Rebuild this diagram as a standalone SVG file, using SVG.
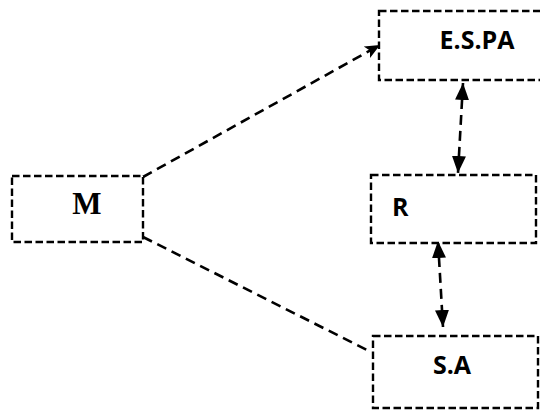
<svg xmlns="http://www.w3.org/2000/svg" width="540" height="410" viewBox="0 0 540 410">
<style>
.box{fill:#fff;stroke:#000;stroke-width:2.4;stroke-dasharray:7.5,3.5}
.con{fill:none;stroke:#000;stroke-width:2.6;stroke-dasharray:10,6}
.lbl{font-family:"Open Sans","Liberation Sans",sans-serif;font-weight:bold;font-size:25px;fill:#000}
.lblm{font-family:"Liberation Serif","Times New Roman",serif;font-weight:bold;font-size:31px;fill:#000}
</style>
<defs>
<marker id="ah" markerUnits="userSpaceOnUse" markerWidth="18" markerHeight="18" viewBox="0 0 18 18" refX="17" refY="9" orient="auto-start-reverse">
<path d="M0,2 L17,9 L0,16 Z" fill="#000"/>
</marker>
<marker id="ahs" markerUnits="userSpaceOnUse" markerWidth="16" markerHeight="16" viewBox="0 0 16 16" refX="15" refY="8" orient="auto">
<path d="M0,1.5 L15,8 L0,14.5 L3.5,8 Z" fill="#000"/>
</marker>
</defs>
<g id="connectors">
<path class="con" d="M143,177 L380,45" marker-end="url(#ahs)"/>
<path class="con" d="M143,237 L369,351"/>
<path class="con" d="M463,83 L458,173" marker-start="url(#ah)" marker-end="url(#ah)"/>
<path class="con" d="M438,241 L443,327" marker-start="url(#ah)" marker-end="url(#ah)"/>
</g>
<g id="node-espa">
<rect class="box" x="379" y="11" width="170" height="69"/>
<text class="lbl" x="477" y="49" text-anchor="middle">E.S.PA</text>
</g>
<g id="node-m">
<rect class="box" x="12" y="176" width="131" height="66"/>
<text class="lblm" x="87" y="214" text-anchor="middle">M</text>
</g>
<g id="node-r">
<rect class="box" x="371" y="175" width="165" height="68"/>
<text class="lbl" x="392" y="216">R</text>
</g>
<g id="node-sa">
<rect class="box" x="373" y="336" width="165" height="72"/>
<text class="lbl" x="452" y="374" text-anchor="middle">S.A</text>
</g>
</svg>
